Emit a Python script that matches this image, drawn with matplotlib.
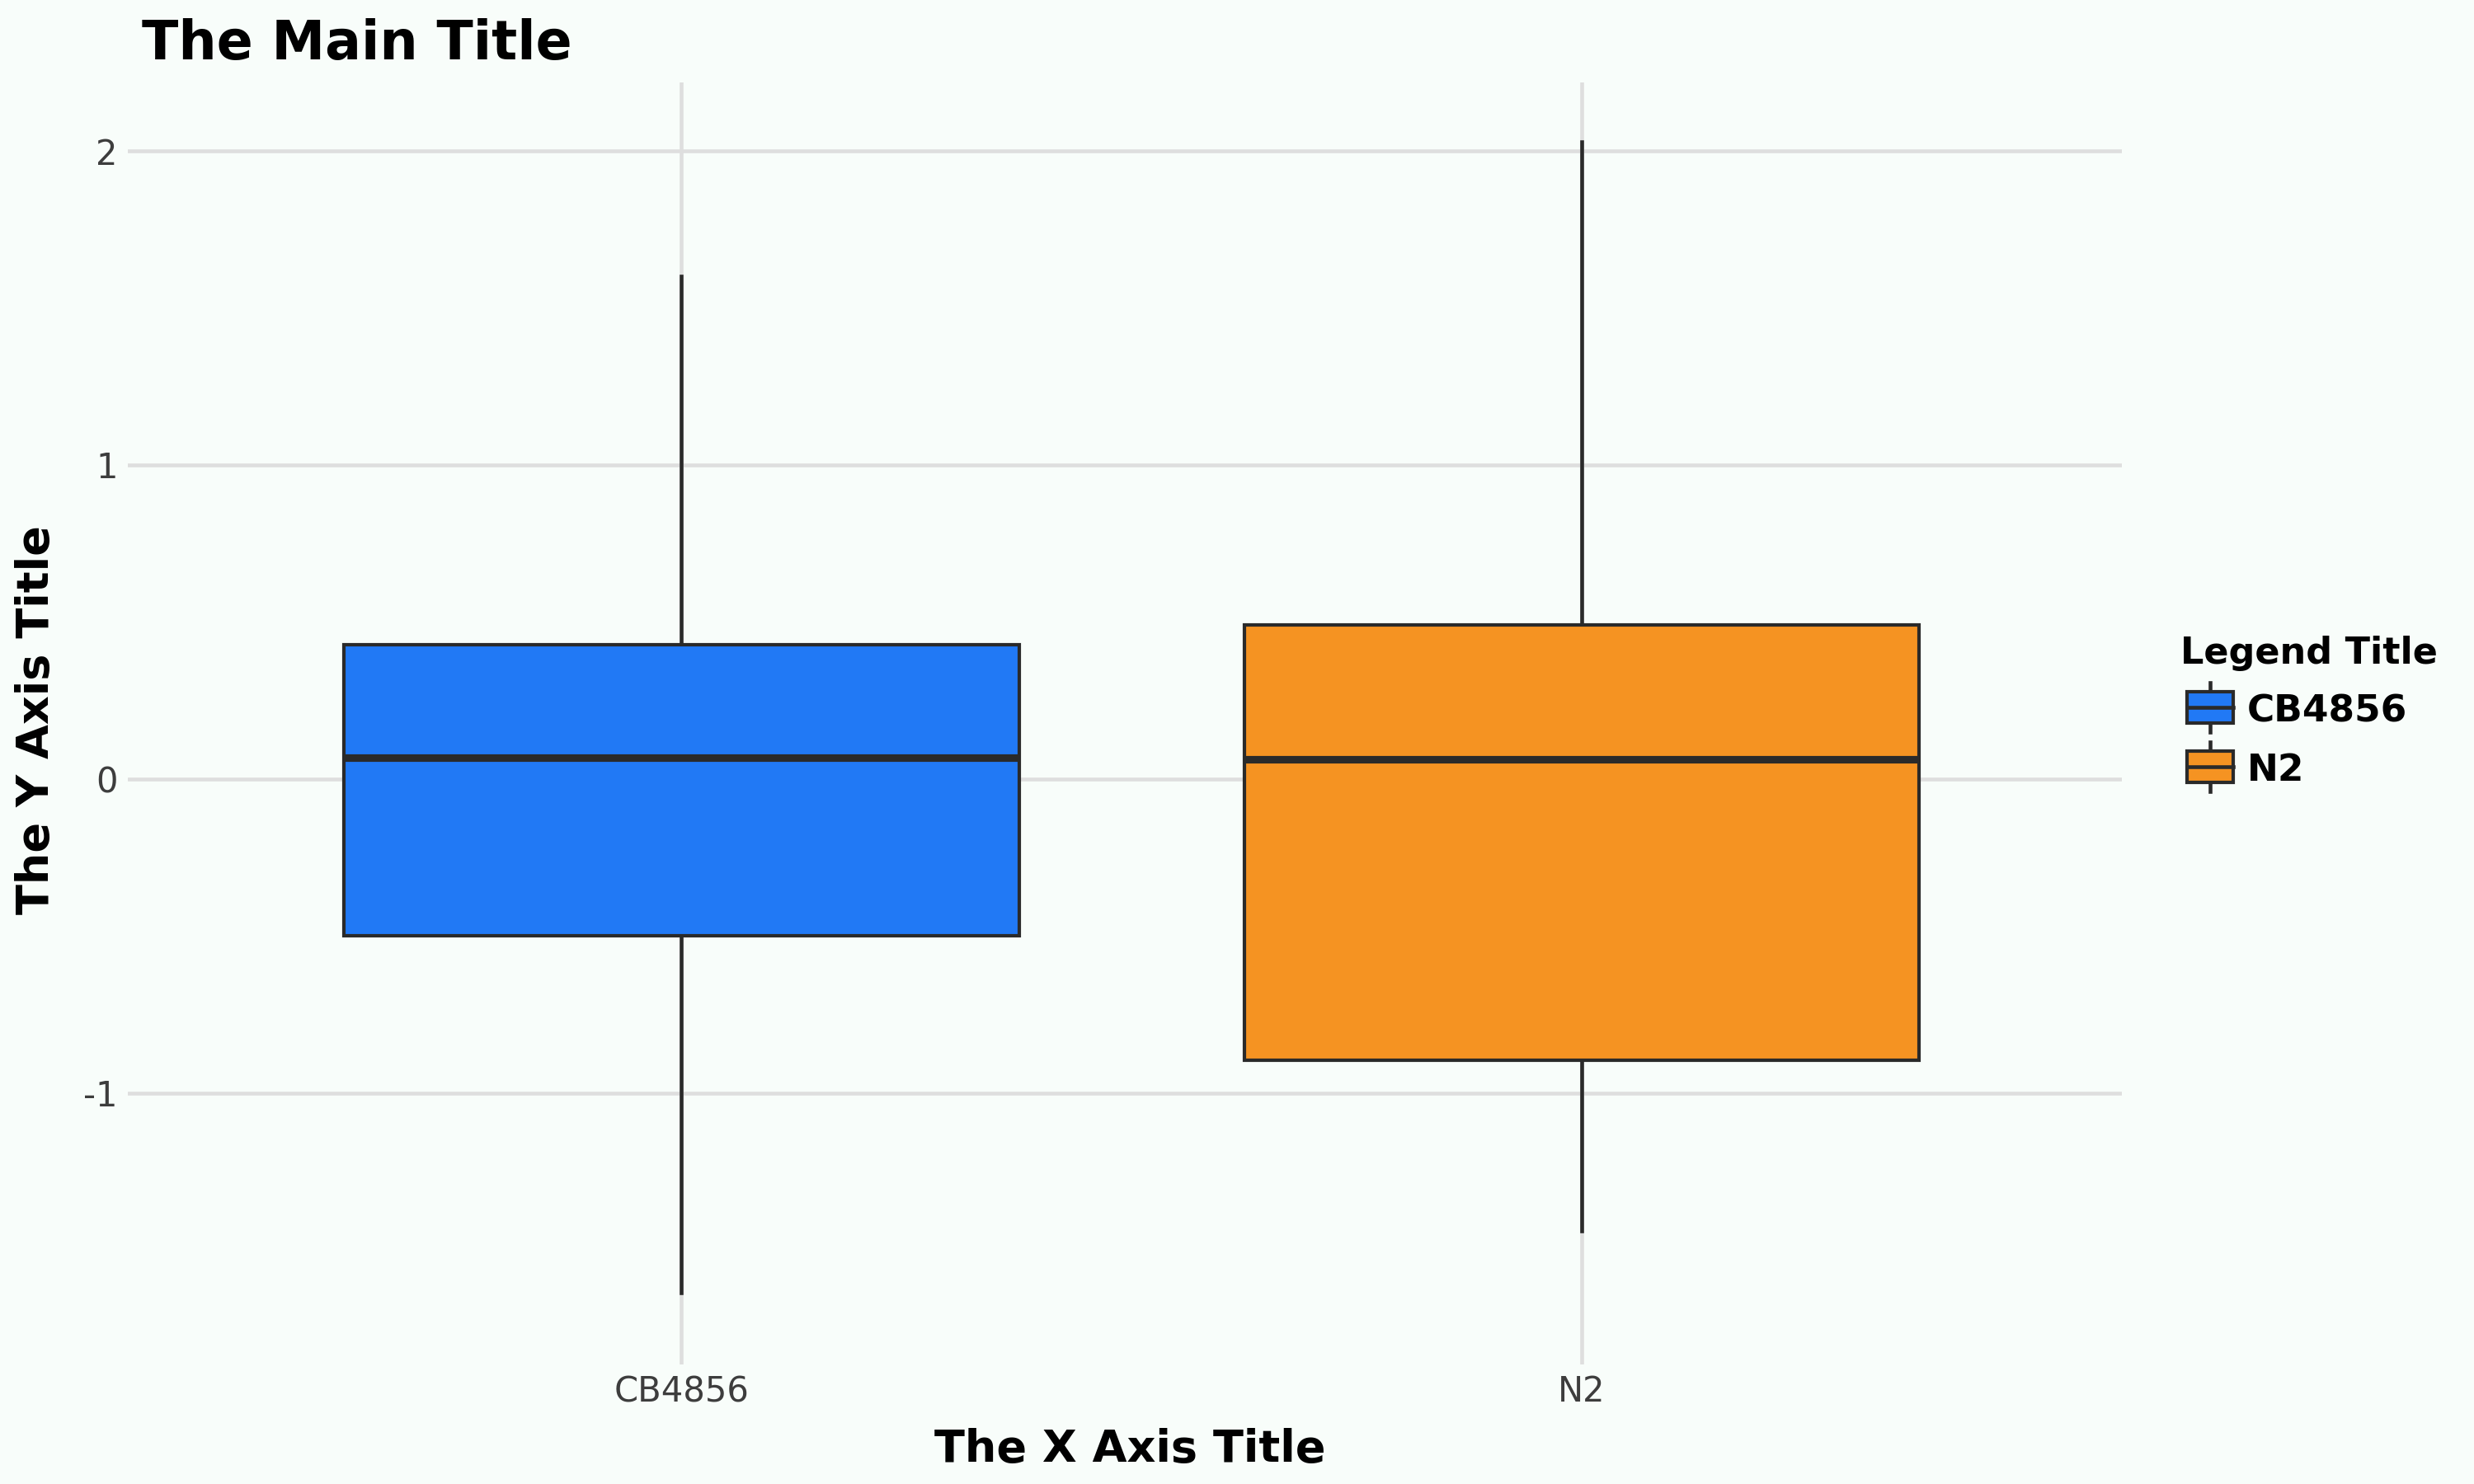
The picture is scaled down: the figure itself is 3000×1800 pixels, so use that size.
import matplotlib
matplotlib.use('Agg')
import matplotlib.pyplot as plt
from matplotlib.patches import Rectangle
from matplotlib.lines import Line2D

# ---- data ----
categories = ['CB4856', 'N2']
whisker_low = [-1.635, -1.44]
q1 = [-0.50, -0.895]
median = [0.068, 0.063]
q3 = [0.428, 0.49]
whisker_high = [1.60, 2.03]
colors = ['#2179F5', '#F59322']
yticks = [-1, 0, 1, 2]
ytick_labels = ['-1', '0', '1', '2']

title = 'The Main Title'
xlabel = 'The X Axis Title'
ylabel = 'The Y Axis Title'
legend_title = 'Legend Title'

# ---- styling ----
plt.rcParams['axes.unicode_minus'] = False
bg = '#F8FDFA'
edge = '#2A2A2A'
grid_c = '#DEDEDE'
W, H = 3000, 1800

def fx(x):
    return x / W

def fy(y):
    return 1 - y / H

fig = plt.figure(figsize=(10, 6), dpi=300, facecolor=bg)
# panel in pixel coords: left 155, right 2573, top 100, bottom 1655
ax = fig.add_axes([fx(155), fy(1655), (2573 - 155) / W, (1655 - 100) / H])
ax.set_facecolor(bg)

stats = []
for i, cat in enumerate(categories):
    stats.append(dict(label=cat, med=median[i], q1=q1[i], q3=q3[i],
                      whislo=whisker_low[i], whishi=whisker_high[i], fliers=[]))

bp = ax.bxp(stats, positions=list(range(1, len(categories) + 1)), widths=0.75,
            patch_artist=True, showcaps=False, showfliers=False,
            boxprops=dict(edgecolor=edge, linewidth=1.0),
            medianprops=dict(color=edge, linewidth=2.2, solid_capstyle='butt'),
            whiskerprops=dict(color=edge, linewidth=1.1))
for patch, col in zip(bp['boxes'], colors):
    patch.set_facecolor(col)
    patch.set_zorder(3)
for ln in bp['whiskers']:
    ln.set_zorder(2.5)
for ln in bp['medians']:
    ln.set_zorder(4)

ax.set_xlim(0.385, 2.6)
ax.set_ylim(-1.864, 2.218)
ax.set_yticks(yticks)
ax.set_yticklabels(ytick_labels)
ax.set_xticks(list(range(1, len(categories) + 1)))
ax.set_xticklabels(categories)

ax.set_axisbelow(True)
ax.grid(True, color=grid_c, linewidth=1.1)
for s in ax.spines.values():
    s.set_visible(False)
ax.tick_params(length=0, labelsize=10, labelcolor='#3D3D3D', pad=3)
for lab in ax.get_xticklabels() + ax.get_yticklabels():
    lab.set_fontfamily('DejaVu Sans')

# titles
fig.text(fx(172), fy(72), title, fontsize=15.6, fontweight='bold',
         color='black', ha='left', va='baseline', family='DejaVu Sans')
fig.text(fx(1370), fy(1758), xlabel, fontsize=13, fontweight='bold',
         color='black', ha='center', va='center', family='DejaVu Sans')
fig.text(fx(44), fy(873), ylabel, fontsize=13, fontweight='bold',
         color='black', ha='center', va='center', rotation=90, family='DejaVu Sans')

# legend (drawn manually as ggplot-style boxplot keys)
fig.text(fx(2644), fy(805), legend_title, fontsize=10.7, fontweight='bold',
         color='black', ha='left', va='baseline', family='DejaVu Sans')
for i, (cat, col) in enumerate(zip(categories, colors)):
    yc = 858 + i * 72
    fig.add_artist(Line2D([fx(2680), fx(2680)], [fy(yc - 30), fy(yc + 30)],
                          color=edge, linewidth=1.1, transform=fig.transFigure))
    fig.add_artist(Rectangle((fx(2652), fy(yc + 19)), (2708 - 2652) / W, 38 / H,
                             facecolor=col, edgecolor=edge, linewidth=1.0,
                             transform=fig.transFigure, zorder=3))
    fig.add_artist(Line2D([fx(2652), fx(2708)], [fy(yc), fy(yc)],
                          color=edge, linewidth=1.1, transform=fig.transFigure, zorder=4))
    fig.text(fx(2725), fy(yc), cat, fontsize=10.9, fontweight='bold',
             color='black', ha='left', va='center_baseline', family='DejaVu Sans')

fig.savefig('out.png', dpi=300, facecolor=bg)
